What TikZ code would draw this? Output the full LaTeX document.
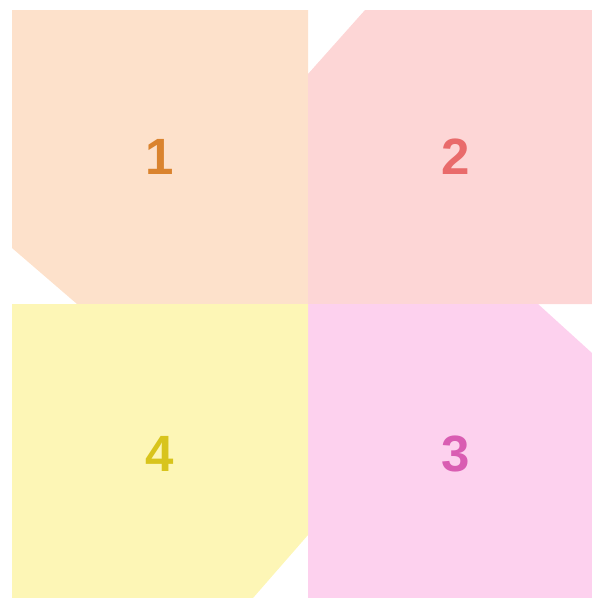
\documentclass[tikz,border=0pt]{standalone}
\usepackage{fontspec}
\setmainfont{Liberation Sans}
\usepackage{tikz}

\definecolor{peachfill}{HTML}{FDE1CB}
\definecolor{peachtext}{HTML}{DA832E}
\definecolor{rosefill}{HTML}{FDD6D6}
\definecolor{rosetext}{HTML}{E96B6B}
\definecolor{pinkfill}{HTML}{FDD1EE}
\definecolor{pinktext}{HTML}{D95DB2}
\definecolor{lemonfill}{HTML}{FDF6B6}
\definecolor{lemontext}{HTML}{D8C41C}

\begin{document}
\begin{tikzpicture}[
			x=1pt,
			y=-1pt,
			number label/.style={font=\fontsize{51}{51}\selectfont\bfseries}
		]
		\useasboundingbox (0,0) rectangle (592,598);

		% quarter 1, top left
		\fill[peachfill] (12,10) -- (308,10) -- (308,304) -- (77,304) -- (12,248) -- cycle;
		\node[number label, text=peachtext] (one) at (160,157) {1};

		% quarter 2, top right
		\fill[rosefill] (365,10) -- (592,10) -- (592,304) -- (308,304) -- (308,74) -- cycle;
		\node[number label, text=rosetext] (two) at (456,157) {2};

		% quarter 3, bottom right
		\fill[pinkfill] (308,304) -- (538,304) -- (592,353) -- (592,598) -- (308,598) -- cycle;
		\node[number label, text=pinktext] (three) at (456,454) {3};

		% quarter 4, bottom left
		\fill[lemonfill] (12,304) -- (308,304) -- (308,535) -- (253,598) -- (12,598) -- cycle;
		\node[number label, text=lemontext] (four) at (160,454) {4};
	\end{tikzpicture}
\end{document}
